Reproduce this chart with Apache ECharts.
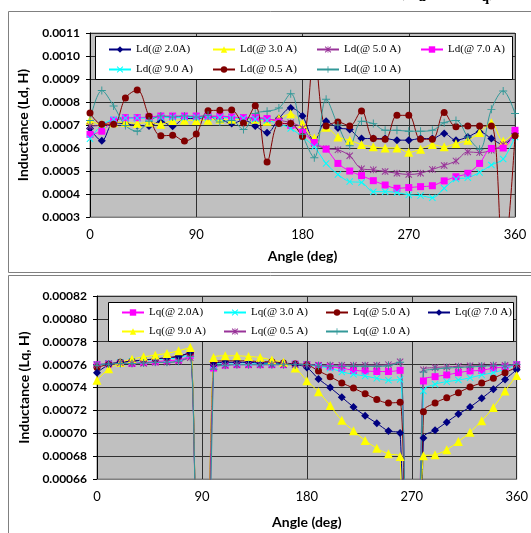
<!DOCTYPE html>
<html>
<head>
<meta charset="utf-8">
<script src="https://cdn.jsdelivr.net/npm/echarts@6/dist/echarts.min.js"></script>
<style>
html, body { margin: 0; padding: 0; background: #fff; }
#chart { width: 531px; height: 533px; }
</style>
</head>
<body>
<div id="chart"></div>
<script>
// angle steps (deg) shared by every curve
const angles = [0, 10, 20, 30, 40, 50, 60, 70, 80, 90, 100, 110, 120, 130, 140, 150, 160, 170, 180,
  190, 200, 210, 220, 230, 240, 250, 260, 270, 280, 290, 300, 310, 320, 330, 340, 350, 360];
const angleTicks = [0, 90, 180, 270, 360];
const ldTicks = [0.0003, 0.0004, 0.0005, 0.0006, 0.0007, 0.0008, 0.0009, 0.0010, 0.0011];
const lqTicks = [0.00066, 0.00068, 0.00070, 0.00072, 0.00074, 0.00076, 0.00078, 0.00080, 0.00082];

// Ld (H)
const ld2_0 = [0.000685, 0.000631, 0.000710, 0.000705, 0.000698, 0.000696, 0.000716, 0.000695, 0.000728, 0.000728,
  0.000735, 0.000728, 0.000706, 0.000721, 0.000696, 0.000666, 0.000728, 0.000774, 0.000739, 0.000630,
  0.000716, 0.000687, 0.000680, 0.000641, 0.000641, 0.000641, 0.000634, 0.000634, 0.000641, 0.000641,
  0.000663, 0.000634, 0.000648, 0.000670, 0.000641, 0.000615, 0.000663];
const ld3_0 = [0.000721, 0.000702, 0.000710, 0.000712, 0.000706, 0.000712, 0.000703, 0.000720, 0.000721, 0.000720,
  0.000721, 0.000725, 0.000725, 0.000726, 0.000725, 0.000716, 0.000728, 0.000749, 0.000706, 0.000644,
  0.000690, 0.000648, 0.000634, 0.000615, 0.000605, 0.000600, 0.000600, 0.000581, 0.000595, 0.000615,
  0.000605, 0.000620, 0.000634, 0.000667, 0.000710, 0.000630, 0.000670];
const ld5_0 = [0.000695, 0.000700, 0.000720, 0.000730, 0.000732, 0.000733, 0.000735, 0.000735, 0.000736, 0.000736,
  0.000736, 0.000736, 0.000733, 0.000730, 0.000728, 0.000725, 0.000720, 0.000710, 0.000687, 0.000620,
  0.000597, 0.000592, 0.000566, 0.000510, 0.000505, 0.000498, 0.000490, 0.000485, 0.000490, 0.000507,
  0.000524, 0.000544, 0.000583, 0.000580, 0.000590, 0.000615, 0.000663];
const ld7_0 = [0.000659, 0.000673, 0.000721, 0.000732, 0.000732, 0.000735, 0.000739, 0.000739, 0.000739, 0.000739,
  0.000739, 0.000739, 0.000735, 0.000732, 0.000732, 0.000728, 0.000713, 0.000699, 0.000667, 0.000624,
  0.000595, 0.000533, 0.000500, 0.000480, 0.000458, 0.000439, 0.000425, 0.000428, 0.000432, 0.000436,
  0.000457, 0.000475, 0.000490, 0.000533, 0.000598, 0.000600, 0.000677];
const ld9_0 = [0.000640, 0.000700, 0.000725, 0.000730, 0.000730, 0.000730, 0.000733, 0.000733, 0.000733, 0.000733,
  0.000733, 0.000733, 0.000730, 0.000728, 0.000725, 0.000720, 0.000705, 0.000685, 0.000648, 0.000605,
  0.000533, 0.000485, 0.000454, 0.000450, 0.000410, 0.000410, 0.000407, 0.000396, 0.000393, 0.000384,
  0.000425, 0.000465, 0.000471, 0.000494, 0.000526, 0.000552, 0.000648];
const ld0_5 = [0.000752, 0.000703, 0.000703, 0.000817, 0.000852, 0.000738, 0.000653, 0.000655, 0.000630, 0.000661,
  0.000762, 0.000764, 0.000765, 0.000709, 0.000784, 0.000539, 0.000706, 0.000706, 0.000650, 0.001010,
  0.000696, 0.000713, 0.000696, 0.000761, 0.000641, 0.000638, 0.000742, 0.000742, 0.000638, 0.000638,
  0.000754, 0.000692, 0.000696, 0.000696, 0.000696, 0.000100, 0.000653];
const ld1_0 = [0.000720, 0.000850, 0.000783, 0.000698, 0.000673, 0.000716, 0.000739, 0.000735, 0.000739, 0.000735,
  0.000742, 0.000713, 0.000720, 0.000680, 0.000750, 0.000760, 0.000774, 0.000836, 0.000660, 0.000558,
  0.000812, 0.000700, 0.000610, 0.000716, 0.000706, 0.000677, 0.000677, 0.000673, 0.000673, 0.000677,
  0.000710, 0.000720, 0.000648, 0.000595, 0.000768, 0.000848, 0.000750];

// Lq (H); the readings at 90 and 270 deg fall far below the plot
const lq2_0 = [0.0007600, 0.0007605, 0.0007610, 0.0007610, 0.0007620, 0.0007625, 0.0007635, 0.0007640, 0.0007680, 0,
  0.0007570, 0.0007595, 0.0007600, 0.0007600, 0.0007600, 0.0007600, 0.0007600, 0.0007605, 0.0007600, 0.0007590,
  0.0007580, 0.0007570, 0.0007550, 0.0007545, 0.0007540, 0.0007540, 0.0007550, 0, 0.0007457, 0.0007495,
  0.0007510, 0.0007530, 0.0007545, 0.0007550, 0.0007570, 0.0007580, 0.0007600];
const lq3_0 = [0.0007600, 0.0007610, 0.0007620, 0.0007630, 0.0007635, 0.0007645, 0.0007650, 0.0007660, 0.0007690, 0,
  0.0007590, 0.0007610, 0.0007615, 0.0007615, 0.0007610, 0.0007610, 0.0007605, 0.0007605, 0.0007600, 0.0007583,
  0.0007569, 0.0007536, 0.0007516, 0.0007500, 0.0007480, 0.0007463, 0.0007470, 0, 0.0007370, 0.0007428,
  0.0007451, 0.0007465, 0.0007485, 0.0007510, 0.0007530, 0.0007560, 0.0007600];
const lq5_0 = [0.0007574, 0.0007604, 0.0007620, 0.0007630, 0.0007640, 0.0007650, 0.0007660, 0.0007675, 0.0007700, 0,
  0.0007620, 0.0007633, 0.0007633, 0.0007633, 0.0007625, 0.0007625, 0.0007615, 0.0007605, 0.0007598, 0.0007545,
  0.0007495, 0.0007440, 0.0007395, 0.0007345, 0.0007295, 0.0007265, 0.0007270, 0, 0.0007187, 0.0007265,
  0.0007310, 0.0007355, 0.0007405, 0.0007440, 0.0007480, 0.0007530, 0.0007575];
const lq7_0 = [0.0007530, 0.0007598, 0.0007620, 0.0007630, 0.0007640, 0.0007650, 0.0007660, 0.0007670, 0.0007710, 0,
  0.0007600, 0.0007620, 0.0007620, 0.0007620, 0.0007615, 0.0007615, 0.0007610, 0.0007600, 0.0007574, 0.0007475,
  0.0007399, 0.0007315, 0.0007229, 0.0007153, 0.0007088, 0.0007020, 0.0007003, 0, 0.0006959, 0.0007026,
  0.0007097, 0.0007168, 0.0007229, 0.0007305, 0.0007385, 0.0007470, 0.0007556];
const lq9_0 = [0.0007463, 0.0007563, 0.0007618, 0.0007648, 0.0007668, 0.0007683, 0.0007698, 0.0007721, 0.0007750, 0,
  0.0007663, 0.0007677, 0.0007677, 0.0007671, 0.0007663, 0.0007640, 0.0007620, 0.0007570, 0.0007460, 0.0007362,
  0.0007242, 0.0007113, 0.0007021, 0.0006937, 0.0006868, 0.0006820, 0.0006797, 0, 0.0006803, 0.0006812,
  0.0006856, 0.0006928, 0.0007009, 0.0007109, 0.0007225, 0.0007369, 0.0007505];
const lq0_5 = [0.0007600, 0.0007610, 0.0007615, 0.0007610, 0.0007610, 0.0007620, 0.0007620, 0.0007630, 0.0007660, 0,
  0.0007580, 0.0007595, 0.0007600, 0.0007600, 0.0007600, 0.0007600, 0.0007600, 0.0007600, 0.0007600, 0.0007595,
  0.0007595, 0.0007595, 0.0007595, 0.0007595, 0.0007595, 0.0007600, 0.0007625, 0, 0.0007555, 0.0007575,
  0.0007580, 0.0007585, 0.0007590, 0.0007590, 0.0007595, 0.0007595, 0.0007600];
const lq1_0 = [0.0007595, 0.0007605, 0.0007610, 0.0007610, 0.0007615, 0.0007620, 0.0007620, 0.0007630, 0.0007670, 0,
  0.0007560, 0.0007595, 0.0007600, 0.0007600, 0.0007600, 0.0007600, 0.0007600, 0.0007600, 0.0007600, 0.0007590,
  0.0007590, 0.0007585, 0.0007585, 0.0007585, 0.0007585, 0.0007590, 0.0007620, 0, 0.0007535, 0.0007560,
  0.0007570, 0.0007575, 0.0007580, 0.0007585, 0.0007590, 0.0007595, 0.0007600];

const C = {
  navy: '#000080', yellow: '#ffff00', purple: '#993399', magenta: '#ff00ff',
  cyan: '#00ffff', darkred: '#800000', teal: '#339999'
};
const SYM = {
  diamond: 'diamond',
  triangle: 'triangle',
  square: 'rect',
  circle: 'circle',
  cross: 'path://M0,1 L1,0 L5,4 L9,0 L10,1 L6,5 L10,9 L9,10 L5,6 L1,10 L0,9 L4,5 Z',
  plus: 'path://M4.4,0 H5.6 V4.4 H10 V5.6 H5.6 V10 H4.4 V5.6 H0 V4.4 H4.4 Z',
  star: 'path://M0,1 L1,0 L5,4 L9,0 L10,1 L6,5 L10,9 L9,10 L5,6 L1,10 L0,9 L4,5 Z M4.4,0 H5.6 V10 H4.4 Z'
};
const symSize = { diamond: 8, triangle: 9, square: 7, circle: 7, cross: 7, plus: 8, star: 7 };

// white framed boxes behind the two legends [x, y, w, h]
const legendBoxes = [[95.5, 36.5, 417, 43], [108.5, 302.5, 405, 39]];

function mkLine(name, vals, color, sym, idx) {
  return {
    name: name,
    type: 'line',
    xAxisIndex: idx,
    yAxisIndex: idx,
    data: angles.map((a, i) => [a, vals[i]]),
    smooth: 0.35,
    symbol: SYM[sym],
    symbolSize: symSize[sym],
    showAllSymbol: true,
    clip: true,
    lineStyle: { width: 1, color: color },
    itemStyle: { color: color },
    emphasis: { disabled: true }
  };
}

const topSeries = [
  mkLine('Ld(@ 2.0A)', ld2_0, C.navy, 'diamond', 0),
  mkLine('Ld(@ 3.0 A)', ld3_0, C.yellow, 'triangle', 0),
  mkLine('Ld(@ 5.0 A)', ld5_0, C.purple, 'star', 0),
  mkLine('Ld(@ 7.0 A)', ld7_0, C.magenta, 'square', 0),
  mkLine('Ld(@ 9.0 A)', ld9_0, C.cyan, 'cross', 0),
  mkLine('Ld(@ 0.5 A)', ld0_5, C.darkred, 'circle', 0),
  mkLine('Ld(@ 1.0 A)', ld1_0, C.teal, 'plus', 0)
];
const botSeries = [
  mkLine('Lq(@ 2.0A)', lq2_0, C.magenta, 'square', 1),
  mkLine('Lq(@ 3.0 A)', lq3_0, C.cyan, 'cross', 1),
  mkLine('Lq(@ 5.0 A)', lq5_0, C.darkred, 'circle', 1),
  mkLine('Lq(@ 7.0 A)', lq7_0, C.navy, 'diamond', 1),
  mkLine('Lq(@ 9.0 A)', lq9_0, C.yellow, 'triangle', 1),
  mkLine('Lq(@ 0.5 A)', lq0_5, C.purple, 'star', 1),
  mkLine('Lq(@ 1.0 A)', lq1_0, C.teal, 'plus', 1)
];

// legend boxes sit on their own layer so they hide the curves behind them
const boxSeries = {
  type: 'custom',
  coordinateSystem: 'none',
  zlevel: 1,
  z: 3,
  silent: true,
  data: [0, 1],
  renderItem: function (params) {
    const b = legendBoxes[params.dataIndex];
    return {
      type: 'rect',
      shape: { x: b[0], y: b[1], width: b[2], height: b[3] },
      style: { fill: '#fff', stroke: '#000', lineWidth: 1 }
    };
  }
};

// legend grid: 4 columns, 2 rows per chart
function legends(series, lefts, tops) {
  return series.map((s, i) => ({
    data: [s.name],
    left: lefts[i % 4],
    top: tops[Math.floor(i / 4)],
    zlevel: 1,
    z: 4,
    padding: 0,
    itemWidth: 22,
    itemHeight: 8,
    selectedMode: false,
    textStyle: { fontFamily: 'Liberation Serif', fontSize: 11, color: '#000' }
  }));
}

function xAxis(idx, gap) {
  return {
    gridIndex: idx, type: 'value',
    min: angleTicks[0], max: angleTicks[angleTicks.length - 1], interval: angleTicks[1] - angleTicks[0],
    axisLine: { show: true, lineStyle: { color: '#808080', width: 1 } },
    axisTick: { show: false },
    axisLabel: { fontFamily: 'Lato', fontSize: 13, color: '#000', margin: 11 },
    splitLine: { show: true, lineStyle: { color: '#303030', width: 1 } },
    name: 'Angle (deg)', nameLocation: 'middle', nameGap: gap,
    nameTextStyle: { fontFamily: 'Lato', fontSize: 14, fontWeight: 'bold', color: '#000' }
  };
}

function yAxis(idx, ticks, digits, name) {
  return {
    gridIndex: idx, type: 'value',
    min: ticks[0], max: ticks[ticks.length - 1], interval: ticks[1] - ticks[0],
    axisLine: { show: true, lineStyle: { color: '#000', width: 1 } },
    axisTick: { show: true, length: 4, lineStyle: { color: '#000' } },
    axisLabel: {
      fontFamily: 'Lato', fontSize: 12, fontWeight: 'bold', color: '#000', margin: 10,
      formatter: v => v.toFixed(digits)
    },
    splitLine: { show: true, lineStyle: { color: '#303030', width: 1 } },
    name: name, nameLocation: 'middle', nameGap: 60,
    nameTextStyle: { fontFamily: 'Lato', fontSize: 14, fontWeight: 'bold', color: '#000' }
  };
}

const chart = echarts.init(document.getElementById('chart'));
chart.setOption({
  animation: false,
  backgroundColor: '#fff',
  grid: [
    { left: 90, top: 33, width: 425, height: 184, show: true, backgroundColor: '#c0c0c0', borderColor: '#808080', borderWidth: 1 },
    { left: 97, top: 296, width: 420, height: 183, show: true, backgroundColor: '#c0c0c0', borderColor: '#808080', borderWidth: 1 }
  ],
  xAxis: [xAxis(0, 32), xAxis(1, 36)],
  yAxis: [
    yAxis(0, ldTicks, 4, 'Inductance (Ld, H)'),
    yAxis(1, lqTicks, 5, 'Inductance (Lq, H)')
  ],
  legend: legends(topSeries, [108, 212, 316, 420], [44, 64])
    .concat(legends(botSeries, [121, 223, 325, 427], [307, 326])),
  graphic: [
    { type: 'rect', shape: { x: 8.5, y: 11.5, width: 560, height: 261 }, style: { fill: 'none', stroke: '#808080', lineWidth: 1 } },
    { type: 'rect', shape: { x: 8.5, y: 275.5, width: 560, height: 300 }, style: { fill: 'none', stroke: '#808080', lineWidth: 1 } },
    {
      type: 'text', x: 398, y: -22,
      style: {
        text: '(L{s|d} and L{s|q})',
        font: 'bold 20px "Liberation Serif"', fill: '#000',
        rich: { s: { font: 'bold 14px "Liberation Serif"', padding: [12, 0, 0, 0] } }
      }
    }
  ],
  series: topSeries.concat(botSeries).concat([boxSeries])
});
</script>
</body>
</html>
